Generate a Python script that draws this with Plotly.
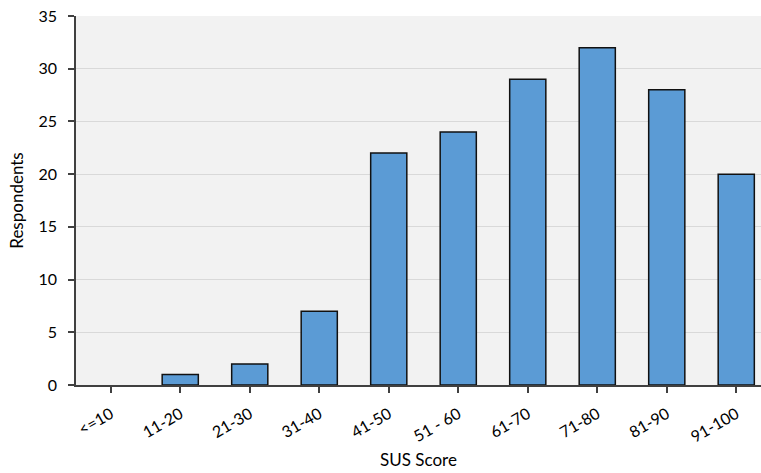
import plotly.graph_objects as go

categories = ["<=10", "11-20", "21-30", "31-40", "41-50", "51 - 60", "61-70", "71-80", "81-90", "91-100"]
respondents = [0, 1, 2, 7, 22, 24, 29, 32, 28, 20]
y_ticks = [0, 5, 10, 15, 20, 25, 30, 35]

font_family = "Lato, Open Sans, sans-serif"

line_widths = [1.5 if v > 0 else 0 for v in respondents]

fig = go.Figure(go.Bar(
    x=list(range(len(categories))),
    y=respondents,
    marker=dict(color="#5b9bd5", line=dict(color="#111111", width=line_widths)),
    width=0.52,
))

fig.update_layout(
    width=761, height=473,
    margin=dict(l=76, r=0, t=16, b=88),
    paper_bgcolor="white",
    plot_bgcolor="#f2f2f2",
    showlegend=False,
    font=dict(family=font_family, size=16, color="#000000"),
)

fig.update_xaxes(
    automargin=False,
    range=[-0.5, 9.356],
    tickmode="array",
    tickvals=list(range(len(categories))),
    ticktext=categories,
    tickangle=-30,
    ticks="outside",
    ticklen=6,
    tickcolor="#404040",
    tickwidth=1.5,
    tickson="boundaries",
    ticklabelstandoff=6,
    ticklabeloverflow="allow",
    showline=True,
    linecolor="#404040",
    linewidth=1.5,
    showgrid=False,
    zeroline=False,
    title=dict(text="SUS Score", font=dict(size=17), standoff=9),
    tickfont=dict(size=16),
)

fig.update_yaxes(
    automargin=False,
    range=[0, 35],
    tickmode="array",
    tickvals=y_ticks,
    ticks="outside",
    ticklen=6,
    tickcolor="#404040",
    tickwidth=1.5,
    ticklabelstandoff=8,
    ticklabeloverflow="allow",
    showline=True,
    linecolor="#404040",
    linewidth=1.5,
    showgrid=True,
    gridcolor="#d9d9d9",
    gridwidth=1,
    zeroline=False,
    title=dict(text="Respondents", font=dict(size=17), standoff=11),
    tickfont=dict(size=16),
)

# remove the browser's default 8px page margin so the figure fills the window
fig.write_html(
    "out.html",
    config={"displayModeBar": False},
    post_script="document.body.style.margin='0';document.body.style.overflow='hidden';",
)
